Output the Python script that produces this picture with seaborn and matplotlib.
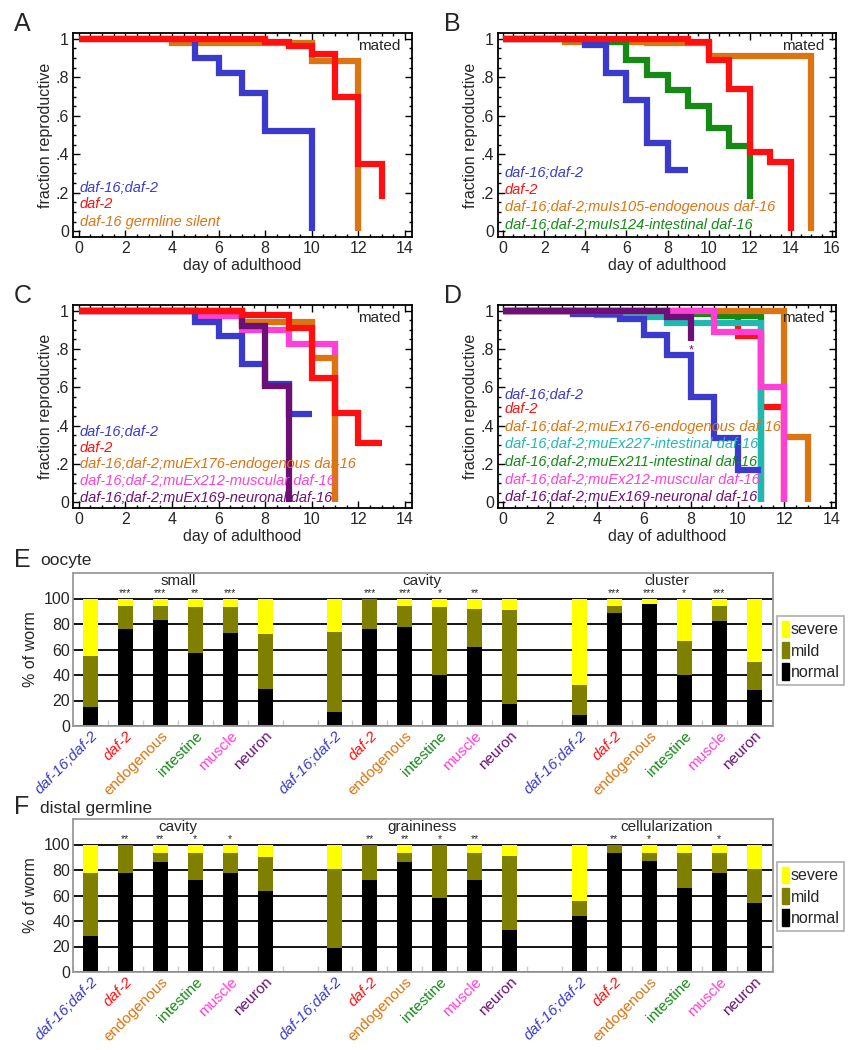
import numpy as np
import pandas as pd
import matplotlib
matplotlib.use("Agg")
import matplotlib.pyplot as plt
from matplotlib.patches import Patch
from matplotlib.ticker import MultipleLocator
import seaborn as sns

# ---- colours ----
BLUE = "#3a3acd"
RED = "#ff1010"
ORANGE = "#dc7412"
GREEN = "#158a15"
PINK = "#ff40d4"
PURPLE = "#6c1077"
CYAN = "#22b8b2"
YELLOW = "#ffff00"
OLIVE = "#808000"

# ---- panel A ----
a_d16d2_day = [0, 5, 6, 7, 8, 10]
a_d16d2_frac = [1, 0.90, 0.82, 0.72, 0.52, 0]
a_daf2_day = [0, 8, 9, 10, 11, 12, 13]
a_daf2_frac = [1, 0.985, 0.96, 0.92, 0.70, 0.35, 0.17]
a_silent_day = [0, 4, 10, 12]
a_silent_frac = [1, 0.98, 0.885, 0]

# ---- panel B ----
b_d16d2_day = [0, 4, 5, 6, 7, 8, 9]
b_d16d2_frac = [1, 0.97, 0.82, 0.68, 0.46, 0.32, 0.32]
b_daf2_day = [0, 9, 10, 11, 12, 13, 14]
b_daf2_frac = [1, 0.985, 0.89, 0.74, 0.41, 0.36, 0]
b_endo_day = [0, 3, 7, 10, 15]
b_endo_frac = [1, 0.985, 0.978, 0.91, 0]
b_int_day = [0, 5, 6, 7, 8, 9, 10, 11, 12]
b_int_frac = [1, 0.985, 0.89, 0.81, 0.735, 0.65, 0.535, 0.445, 0.17]

# ---- panel C ----
c_d16d2_day = [0, 5, 6, 7, 8, 9, 10]
c_d16d2_frac = [1, 0.94, 0.87, 0.72, 0.62, 0.46, 0.46]
c_daf2_day = [0, 7, 9, 10, 11, 12, 13]
c_daf2_frac = [1, 0.98, 0.91, 0.65, 0.465, 0.31, 0.31]
c_endo_day = [0, 7, 10, 11]
c_endo_frac = [1, 0.94, 0.755, 0]
c_musc_day = [0, 5, 7, 9, 11]
c_musc_frac = [1, 0.97, 0.90, 0.825, 0]
c_neur_day = [0, 7, 8, 9]
c_neur_frac = [1, 0.92, 0.605, 0]

# ---- panel D ----
d_d16d2_day = [0, 3, 5, 6, 7, 8, 9, 10, 11]
d_d16d2_frac = [1, 0.985, 0.955, 0.875, 0.77, 0.55, 0.335, 0.17, 0.17]
d_daf2_day = [0, 9, 10, 11, 12]
d_daf2_frac = [1, 0.975, 0.87, 0.495, 0]
d_endo_day = [0, 12, 13]
d_endo_frac = [1, 0.34, 0]
d_int227_day = [0, 4, 6, 7, 11]
d_int227_frac = [1, 0.98, 0.965, 0.935, 0]
d_int211_day = [0, 6, 9, 11]
d_int211_frac = [1, 0.985, 0.975, 0]
d_musc_day = [0, 9, 11, 12]
d_musc_frac = [1, 0.89, 0.60, 0]
d_neur_day = [0, 7, 8]
d_neur_frac = [1, 0.965, 0.84]

# ---- panels E/F: % normal and % mild (severe = rest) ----
bar_labels = ["daf-16;daf-2", "daf-2", "endogenous", "intestine", "muscle", "neuron"]
bar_colors = [BLUE, RED, ORANGE, GREEN, PINK, PURPLE]

e_groups = ["small", "cavity", "cluster"]
e_small_normal = [15, 76, 83, 57, 73, 29]
e_small_mild = [40, 18, 11, 36.5, 20.5, 43]
e_cavity_normal = [11, 76, 78, 40, 62, 17]
e_cavity_mild = [63, 24, 16, 53.5, 30, 74]
e_cluster_normal = [9, 89, 96, 40, 82, 28]
e_cluster_mild = [23, 5.5, 0, 27, 12, 22]
e_small_stars = ["", "***", "***", "**", "***", ""]
e_cavity_stars = ["", "***", "***", "*", "**", ""]
e_cluster_stars = ["", "***", "***", "*", "***", ""]

f_groups = ["cavity", "graininess", "cellularization"]
f_cavity_normal = [28, 78, 86, 72, 78, 63.5]
f_cavity_mild = [50, 22, 7, 21, 15, 26.5]
f_grain_normal = [19, 72, 86, 58, 72, 33]
f_grain_mild = [62, 28, 7, 42, 21, 58]
f_cell_normal = [44, 93, 87, 66, 78, 54]
f_cell_mild = [12, 7, 6, 27, 15, 27]
f_cavity_stars = ["", "**", "**", "*", "*", ""]
f_grain_stars = ["", "**", "**", "*", "**", ""]
f_cell_stars = ["", "**", "*", "", "*", ""]


sns.set_theme(style="ticks")
plt.rcParams["font.family"] = ["Liberation Sans", "DejaVu Sans"]

fig = plt.figure(figsize=(8.54, 10.5), dpi=100)
W, H = 854, 1050


def axes_px(left, top, right, bottom):
    return fig.add_axes([left / W, 1 - bottom / H, (right - left) / W, (bottom - top) / H])


def survival_panel(ax, series, labels, label_y, xmax, xlim):
    for day, frac, color in series:
        df = pd.DataFrame({"day": day, "frac": frac})
        sns.lineplot(data=df, x="day", y="frac", color=color, lw=4.5, ax=ax,
                     drawstyle="steps-post", estimator=None, sort=False,
                     solid_joinstyle="miter", solid_capstyle="butt")
    ax.set_xlim(*xlim)
    ax.set_ylim(-0.03, 1.03)
    ax.set_xticks(np.arange(0, xmax + 1, 2))
    ax.xaxis.set_minor_locator(MultipleLocator(0.5))
    ax.set_yticks([0, 0.2, 0.4, 0.6, 0.8, 1])
    ax.set_yticklabels(["0", ".2", ".4", ".6", ".8", "1"])
    ax.yaxis.set_minor_locator(MultipleLocator(0.05))
    ax.tick_params(which="both", direction="in", top=True, right=True,
                   labelsize=11.5, width=1, color="black")
    ax.tick_params(which="major", length=5, pad=3)
    ax.tick_params(which="minor", length=2.5)
    for sp in ax.spines.values():
        sp.set_color("black")
        sp.set_linewidth(1.3)
    ax.set_xlabel("day of adulthood", fontsize=11.5, labelpad=1)
    ax.set_ylabel("fraction reproductive", fontsize=11.5, labelpad=2)
    ax.text(0.965, 0.935, "mated", transform=ax.transAxes, ha="right",
            va="center", fontsize=11)
    for (txt, col), yy in zip(labels, label_y):
        ax.text(0.02, yy, txt, color=col, style="italic", fontsize=10.5,
                transform=ax.transAxes, va="center", ha="left")


# A
axA = axes_px(73, 33, 412, 237)
survival_panel(axA,
               [(a_silent_day, a_silent_frac, ORANGE),
                (a_d16d2_day, a_d16d2_frac, BLUE),
                (a_daf2_day, a_daf2_frac, RED)],
               [("daf-16;daf-2", BLUE), ("daf-2", RED),
                ("daf-16 germline silent", ORANGE)],
               [0.24, 0.162, 0.074], 14, (-0.25, 14.3))

# B
axB = axes_px(498, 33, 836, 237)
survival_panel(axB,
               [(b_endo_day, b_endo_frac, ORANGE),
                (b_int_day, b_int_frac, GREEN),
                (b_d16d2_day, b_d16d2_frac, BLUE),
                (b_daf2_day, b_daf2_frac, RED)],
               [("daf-16;daf-2", BLUE), ("daf-2", RED),
                ("daf-16;daf-2;muIs105-endogenous daf-16", ORANGE),
                ("daf-16;daf-2;muIs124-intestinal daf-16", GREEN)],
               [0.314, 0.23, 0.147, 0.059], 16, (-0.25, 16.2))

# C
axC = axes_px(73, 305, 412, 508)
survival_panel(axC,
               [(c_musc_day, c_musc_frac, PINK),
                (c_endo_day, c_endo_frac, ORANGE),
                (c_d16d2_day, c_d16d2_frac, BLUE),
                (c_neur_day, c_neur_frac, PURPLE),
                (c_daf2_day, c_daf2_frac, RED)],
               [("daf-16;daf-2", BLUE), ("daf-2", RED),
                ("daf-16;daf-2;muEx176-endogenous daf-16", ORANGE),
                ("daf-16;daf-2;muEx212-muscular daf-16", PINK),
                ("daf-16;daf-2;muEx169-neuronal daf-16", PURPLE)],
               [0.374, 0.296, 0.217, 0.133, 0.05], 14, (-0.25, 14.3))

# D
axD = axes_px(498, 305, 836, 508)
survival_panel(axD,
               [(d_daf2_day, d_daf2_frac, RED),
                (d_int211_day, d_int211_frac, GREEN),
                (d_int227_day, d_int227_frac, CYAN),
                (d_d16d2_day, d_d16d2_frac, BLUE),
                (d_endo_day, d_endo_frac, ORANGE),
                (d_musc_day, d_musc_frac, PINK),
                (d_neur_day, d_neur_frac, PURPLE)],
               [("daf-16;daf-2", BLUE), ("daf-2", RED),
                ("daf-16;daf-2;muEx176-endogenous daf-16", ORANGE),
                ("daf-16;daf-2;muEx227-intestinal daf-16", CYAN),
                ("daf-16;daf-2;muEx211-intestinal daf-16", GREEN),
                ("daf-16;daf-2;muEx212-muscular daf-16", PINK),
                ("daf-16;daf-2;muEx169-neuronal daf-16", PURPLE)],
               [0.557, 0.49, 0.40, 0.315, 0.225, 0.138, 0.054], 14, (-0.22, 14.2))
axD.text(8, 0.795, "*", color=PURPLE, ha="center", va="center", fontsize=9)


def bar_panel(ax, groups, normals, milds, stars):
    pos = np.concatenate([g * 7 + np.arange(6) for g in range(len(groups))])
    normal = np.concatenate(normals)
    cum_mild = normal + np.concatenate(milds)
    total = np.full(len(pos), 100.0)
    for vals, col in [(total, YELLOW), (cum_mild, OLIVE), (normal, "black")]:
        sns.barplot(x=pos, y=vals, native_scale=True, orient="x", color=col,
                    width=0.43, linewidth=0, saturation=1, ax=ax)
    ax.set_xlim(-0.46, 19.54)
    ax.set_ylim(0, 120)
    ax.set_yticks([0, 20, 40, 60, 80, 100])
    ax.yaxis.grid(True, color="black", lw=1.3)
    ax.xaxis.grid(False)
    ax.set_axisbelow(True)
    ax.set_xticks(pos)
    ax.set_xticklabels(bar_labels * len(groups), rotation=45, ha="right",
                       rotation_mode="anchor", fontsize=11)
    for i, lab in enumerate(ax.get_xticklabels()):
        lab.set_color(bar_colors[i % 6])
        if i % 6 < 2:
            lab.set_style("italic")
    ax.set_xticks(np.arange(-0.5, 20, 1), minor=True)
    ax.tick_params(axis="x", which="major", length=0, pad=2)
    ax.tick_params(axis="x", which="minor", length=4, direction="in",
                   color="#cccccc", bottom=True)
    ax.tick_params(axis="y", length=0, labelsize=11.5, pad=2)
    for sp in ax.spines.values():
        sp.set_color("#9a9a9a")
        sp.set_linewidth(1.3)
    ax.set_ylabel("% of worm", fontsize=11.5, labelpad=4)
    ax.set_xlabel("")
    for g, (title, st) in enumerate(zip(groups, stars)):
        ax.text(g * 7 + 2.5, 113.5, title, ha="center", va="center", fontsize=11)
        for k, s in enumerate(st):
            if s:
                ax.text(g * 7 + k, 100.5, s, ha="center", va="bottom", fontsize=7.5)
    handles = [Patch(color=YELLOW, label="severe"), Patch(color=OLIVE, label="mild"),
               Patch(color="black", label="normal")]
    leg = ax.legend(handles=handles, loc="upper left", bbox_to_anchor=(1.006, 0.72),
                    handlelength=0.45, handleheight=1.2, handletextpad=0.1,
                    fontsize=11.5, frameon=True, fancybox=False, borderpad=0.3,
                    labelspacing=0.3, borderaxespad=0)
    leg.get_frame().set_edgecolor("#9a9a9a")
    leg.get_frame().set_linewidth(1.2)


axE = axes_px(73, 573, 773, 726)
bar_panel(axE, e_groups,
          [e_small_normal, e_cavity_normal, e_cluster_normal],
          [e_small_mild, e_cavity_mild, e_cluster_mild],
          [e_small_stars, e_cavity_stars, e_cluster_stars])

axF = axes_px(73, 819, 773, 972)
bar_panel(axF, f_groups,
          [f_cavity_normal, f_grain_normal, f_cell_normal],
          [f_cavity_mild, f_grain_mild, f_cell_mild],
          [f_cavity_stars, f_grain_stars, f_cell_stars])

# panel letters
for letter, x, y in [("A", 14, 24), ("B", 444, 24), ("C", 14, 296), ("D", 444, 296),
                     ("E", 14, 560), ("F", 14, 807)]:
    fig.text(x / W, 1 - y / H, letter, fontsize=18, va="center", ha="left")
fig.text(40 / W, 1 - 561 / H, "oocyte", fontsize=12.5, va="center")
fig.text(40 / W, 1 - 808 / H, "distal germline", fontsize=12.5, va="center")

fig.savefig("out.png", dpi=100)
